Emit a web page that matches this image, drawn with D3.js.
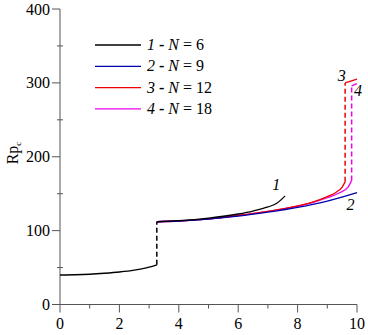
<!DOCTYPE html>
<html>
<head>
<meta charset="utf-8">
<script src="https://cdn.jsdelivr.net/npm/d3@7"></script>
<style>
body { margin: 0; background: #fff; }
svg text { font-family: 'Liberation Serif', 'Times New Roman', serif; }
</style>
</head>
<body>
<div id="chart"></div>
<script>
// series values
const lowX = [0, 0.5, 1, 1.5, 2, 2.5, 3, 3.26]
const lowY = [40, 40.3, 41, 42.3, 44, 46.5, 50.5, 53.7]
const jumpX = 3.26

const c1x = [3.26, 4, 5, 6, 6.5, 7, 7.3, 7.58]
const c1y = [112, 113.5, 117, 122.5, 126.5, 132, 137, 147]
const c2x = [3.26, 4, 5, 6, 7, 8, 9, 10]
const c2y = [112, 113, 115.5, 119.5, 125, 131.5, 140, 151.5]
const c3x = [3.26, 4, 5, 6, 7, 8, 8.5, 9, 9.3, 9.5, 9.6]
const c3y = [112, 113, 116, 120.5, 126, 133.5, 138.5, 146, 152, 159, 166]
const c4x = [3.26, 4, 5, 6, 7, 8, 8.5, 9, 9.4, 9.7, 9.82]
const c4y = [112, 113, 116, 120.5, 126, 133, 138, 144.5, 151, 159, 168]
const top3 = [[9.6, 300], [10, 305]]
const top4 = [[9.82, 296], [10, 299]]

const names = ['1', '2', '3', '4']
const nValues = [6, 9, 12, 18]
const colors = ['#000000', '#0000b0', '#ee0000', '#ee00ee']

const xTicks = [0, 2, 4, 6, 8, 10]
const yTicks = [0, 100, 200, 300, 400]

const width = 368
const height = 335

const svg = d3.select('#chart').append('svg')
	.attr('width', width)
	.attr('height', height)

const x = d3.scaleLinear().domain([0, 10]).range([60, 357])
const y = d3.scaleLinear().domain([0, 400]).range([304.5, 9])

const axisColor = '#555'

// y axis
const yAxis = svg.append('g').attr('transform', `translate(${x(0)},0)`)
yAxis.append('line')
	.attr('x1', 0).attr('x2', 0)
	.attr('y1', y(0)).attr('y2', y(400))
	.attr('stroke', axisColor)
yAxis.selectAll('.minor')
	.data(d3.range(50, 400, 100))
	.join('line')
	.attr('x1', -3).attr('x2', 3)
	.attr('y1', d => y(d)).attr('y2', d => y(d))
	.attr('stroke', axisColor)
yAxis.selectAll('.major')
	.data(yTicks)
	.join('line')
	.attr('x1', -8).attr('x2', 0)
	.attr('y1', d => y(d)).attr('y2', d => y(d))
	.attr('stroke', axisColor)
yAxis.selectAll('text')
	.data(yTicks)
	.join('text')
	.attr('x', -10)
	.attr('y', d => y(d))
	.attr('dy', '0.35em')
	.attr('text-anchor', 'end')
	.style('font-size', '16px')
	.text(d => d)

// x axis
const xAxis = svg.append('g').attr('transform', `translate(0,${y(0)})`)
xAxis.append('line')
	.attr('x1', x(0) - 8).attr('x2', x(10))
	.attr('y1', 0).attr('y2', 0)
	.attr('stroke', axisColor)
xAxis.selectAll('.minor')
	.data(d3.range(1, 10, 2))
	.join('line')
	.attr('x1', d => x(d)).attr('x2', d => x(d))
	.attr('y1', 0).attr('y2', 4)
	.attr('stroke', axisColor)
xAxis.selectAll('.major')
	.data(xTicks)
	.join('line')
	.attr('x1', d => x(d)).attr('x2', d => x(d))
	.attr('y1', 0).attr('y2', 8)
	.attr('stroke', axisColor)
xAxis.selectAll('text')
	.data(xTicks)
	.join('text')
	.attr('x', d => x(d))
	.attr('y', 24)
	.attr('text-anchor', 'middle')
	.style('font-size', '16px')
	.text(d => d)

// y label Rp_c
const ylab = svg.append('text')
	.attr('transform', 'translate(18,153) rotate(-90)')
	.attr('text-anchor', 'middle')
	.style('font-size', '16px')
ylab.append('tspan').text('Rp')
ylab.append('tspan').attr('dy', 3).style('font-size', '9px').text('c')

const line = d3.line().x(d => x(d[0])).y(d => y(d[1])).curve(d3.curveMonotoneX)
const zip = (a, b) => a.map((v, i) => [v, b[i]])

const curves = [
	zip(c1x, c1y),
	zip(c2x, c2y),
	zip(c3x, c3y),
	zip(c4x, c4y)
]

// lower branch and jump
svg.append('path')
	.attr('d', line(zip(lowX, lowY)))
	.attr('fill', 'none').attr('stroke', '#000').attr('stroke-width', 1.4)
svg.append('line')
	.attr('x1', x(jumpX)).attr('x2', x(jumpX))
	.attr('y1', y(lowY[lowY.length - 1])).attr('y2', y(112))
	.attr('stroke', '#000').attr('stroke-width', 1.5)
	.attr('stroke-dasharray', '5,3')

// draw order: 4, 3, 2, 1 so black sits on top near the start
;[3, 2, 1, 0].forEach(i => {
	svg.append('path')
		.attr('d', line(curves[i]))
		.attr('fill', 'none')
		.attr('stroke', colors[i])
		.attr('stroke-width', 1.3)
})

// vertical dashed jumps and top bits for 3 and 4
const tops = [null, null, top3, top4]
;[2, 3].forEach(i => {
	const last = curves[i][curves[i].length - 1]
	svg.append('line')
		.attr('x1', x(last[0])).attr('x2', x(last[0]))
		.attr('y1', y(last[1])).attr('y2', y(tops[i][0][1]))
		.attr('stroke', colors[i]).attr('stroke-width', 1.5)
		.attr('stroke-dasharray', '5,3')
	svg.append('path')
		.attr('d', d3.line().x(d => x(d[0])).y(d => y(d[1]))(tops[i]))
		.attr('fill', 'none').attr('stroke', colors[i]).attr('stroke-width', 1.3)
})

// curve labels
const curveLabels = [
	{ t: '1', v: [7.15, 155] },
	{ t: '2', v: [9.65, 128] },
	{ t: '3', v: [9.35, 302] },
	{ t: '4', v: [9.9, 282] }
]
svg.selectAll('.clab')
	.data(curveLabels)
	.join('text')
	.attr('x', d => x(d.v[0]))
	.attr('y', d => y(d.v[1]))
	.style('font-size', '16px')
	.style('font-style', 'italic')
	.text(d => d.t)

// legend
const legend = svg.append('g')
names.forEach((n, i) => {
	const ly = 45 + i * 21.3
	legend.append('line')
		.attr('x1', 95).attr('x2', 141)
		.attr('y1', ly).attr('y2', ly)
		.attr('stroke', colors[i]).attr('stroke-width', 1.3)
	const t = legend.append('text')
		.attr('x', 147).attr('y', ly + 5)
		.style('font-size', '16px')
	t.append('tspan').style('font-style', 'italic').text(n)
	t.append('tspan').style('font-weight', 'bold').text(' - ')
	t.append('tspan').style('font-style', 'italic').text('N')
	t.append('tspan').text(' = ' + nValues[i])
})
</script>
</body>
</html>
